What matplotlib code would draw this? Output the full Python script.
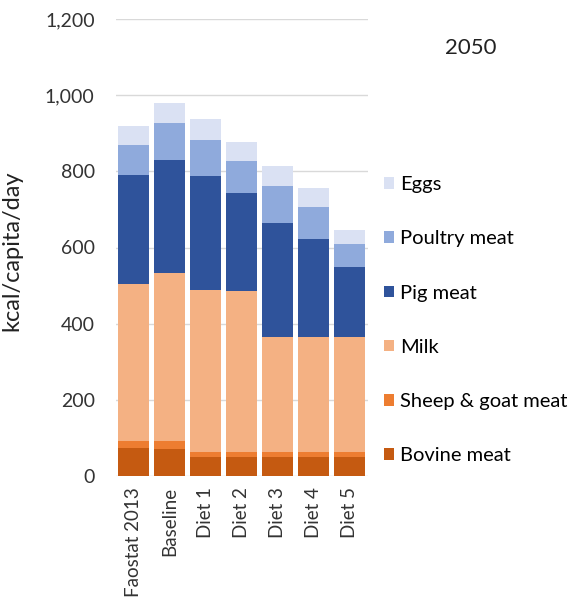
import matplotlib
matplotlib.use("Agg")
import matplotlib.pyplot as plt
import numpy as np
from matplotlib.patches import Patch

plt.rcParams['font.family'] = ['Lato', 'DejaVu Sans']

categories = ["Faostat 2013", "Baseline", "Diet 1", "Diet 2", "Diet 3", "Diet 4", "Diet 5"]
bovine = [74, 70, 51, 51, 51, 51, 51]
sheep_goat = [19, 22, 13, 13, 13, 13, 13]
milk = [410, 442, 424, 422, 300, 300, 300]
pig = [287, 297, 299, 258, 301, 259, 185]
poultry = [80, 97, 95, 83, 97, 84, 60]
eggs = [49, 52, 56, 51, 53, 50, 37]

series = [
    ("Bovine meat", bovine, "#c55a11"),
    ("Sheep & goat meat", sheep_goat, "#ed7d31"),
    ("Milk", milk, "#f4b183"),
    ("Pig meat", pig, "#2f539b"),
    ("Poultry meat", poultry, "#8faadc"),
    ("Eggs", eggs, "#dae1f3"),
]

fig = plt.figure(figsize=(5.77, 6.05), dpi=100)
ax = fig.add_axes([115.5/577, 1-476/605, 252/577, 457/605])

x = np.arange(len(categories))
bottom = np.zeros(len(categories))
for name, vals, col in series:
    ax.bar(x, vals, bottom=bottom, width=0.86, color=col, label=name, zorder=3)
    bottom += np.array(vals)

ax.set_xlim(-0.5, len(categories) - 0.5)
ax.set_ylim(0, 1200)
ax.set_yticks(range(0, 1201, 200))
ax.set_yticklabels([f"{v:,}" for v in range(0, 1201, 200)], fontsize=14, color="#333333")
ax.yaxis.grid(True, color="#d9d9d9", linewidth=1, zorder=0)
ax.set_xticks(x)
ax.set_xticklabels(categories, rotation=90, fontsize=13.5, color="#333333")
ax.tick_params(axis='y', length=0, pad=15)
ax.tick_params(axis='x', length=0, pad=8)
for s in ax.spines.values():
    s.set_visible(False)
ax.set_ylabel("kcal/capita/day", fontsize=17, color="#222222")
ax.yaxis.set_label_coords(22/577, 1-251/605, transform=fig.transFigure)

fig.text(471/577, 1-48/605, "2050", fontsize=16, ha="center", va="center", color="#222222")

handles = [Patch(facecolor=col, label=name) for name, vals, col in series][::-1]
fig.legend(handles=handles, loc="upper left", bbox_to_anchor=(384/577, 1-176/605),
           frameon=False, fontsize=14.5, labelspacing=1.85, handlelength=0.5,
           handleheight=0.5, handletextpad=0.3, borderaxespad=0, borderpad=0)

fig.savefig("out.png", dpi=100)
